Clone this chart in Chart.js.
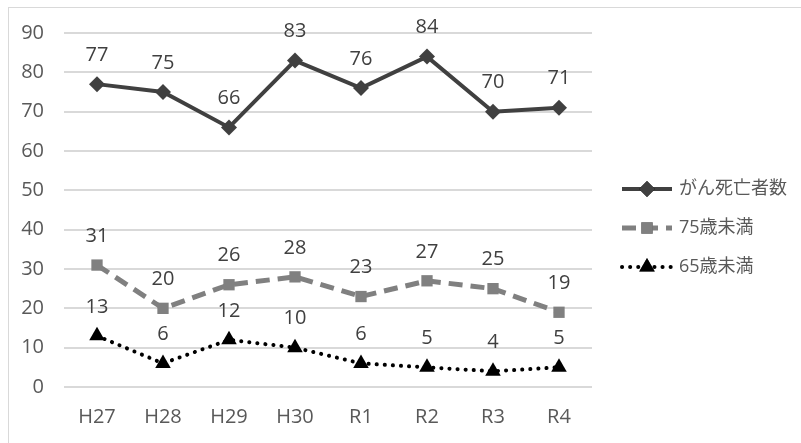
<!DOCTYPE html>
<html>
<head>
<meta charset="utf-8">
<script src="https://cdn.jsdelivr.net/npm/chart.js@4/dist/chart.umd.min.js"></script>
<style>
  html, body { margin: 0; padding: 0; background: #fff; }
  #wrap { position: relative; width: 801px; height: 443px; }
  #frame { position: absolute; left: 8px; top: 7px; width: 800px; height: 440px; border-left: 1px solid #d9d9d9; border-top: 1px solid #d9d9d9; box-sizing: border-box; }
  canvas { position: absolute; left: 0; top: 0; }
</style>
</head>
<body>
<div id="wrap">
  <div id="frame"></div>
  <canvas id="c" width="801" height="443"></canvas>
</div>
<script>
const categories = ['H27', 'H28', 'H29', 'H30', 'R1', 'R2', 'R3', 'R4'];
const cancerDeaths = [77, 75, 66, 83, 76, 84, 70, 71];
const under75 = [31, 20, 26, 28, 23, 27, 25, 19];
const under65 = [13, 6, 12, 10, 6, 5, 4, 5];
const seriesNames = ['がん死亡者数', '75歳未満', '65歳未満'];
const yTicks = [0, 10, 20, 30, 40, 50, 60, 70, 80, 90];

const FONT = '"Open Sans", "Noto Sans CJK JP", sans-serif';

// Value labels above every point
const valueLabels = {
  id: 'valueLabels',
  afterDatasetsDraw(chart) {
    const ctx = chart.ctx;
    ctx.save();
    ctx.font = '20px ' + FONT;
    ctx.fillStyle = '#404040';
    ctx.textAlign = 'center';
    ctx.textBaseline = 'middle';
    chart.data.datasets.forEach((ds, i) => {
      chart.getDatasetMeta(i).data.forEach((pt, j) => {
        ctx.fillText(String(ds.data[j]), pt.x, pt.y - 29);
      });
    });
    ctx.restore();
  }
};

// Legend on the right: line sample with marker, then the series name
const sideLegend = {
  id: 'sideLegend',
  afterDraw(chart) {
    const ctx = chart.ctx;
    ctx.save();
    const x0 = 622, x1 = 672, xm = 647;
    const rows = [189, 228, 267];
    chart.data.datasets.forEach((ds, i) => {
      const y = rows[i];
      ctx.beginPath();
      ctx.strokeStyle = ds.borderColor;
      ctx.lineWidth = ds.borderWidth;
      ctx.lineCap = ds.borderCapStyle || 'butt';
      ctx.setLineDash(ds.borderDash || []);
      ctx.moveTo(x0, y);
      ctx.lineTo(x1, y);
      ctx.stroke();
      ctx.setLineDash([]);
      Chart.helpers.drawPoint(ctx, {
        pointStyle: ds.pointStyle,
        radius: ds.pointRadius,
        rotation: 0,
        borderWidth: 0
      }, xm, y);
      ctx.fillStyle = ds.pointBackgroundColor;
      ctx.fill();
      ctx.font = '18px ' + FONT;
      ctx.fillStyle = '#595959';
      ctx.textAlign = 'left';
      ctx.textBaseline = 'middle';
      ctx.fillText(seriesNames[i], 679, y);
    });
    ctx.restore();
  }
};

new Chart(document.getElementById('c'), {
  type: 'line',
  data: {
    labels: categories,
    datasets: [
      {
        label: seriesNames[0], data: cancerDeaths,
        borderColor: '#404040', borderWidth: 4,
        pointStyle: 'rectRot', pointRadius: 8,
        pointBackgroundColor: '#404040', pointBorderColor: '#404040', pointBorderWidth: 0,
        tension: 0
      },
      {
        label: seriesNames[1], data: under75,
        borderColor: '#808080', borderWidth: 5, borderDash: [14, 8],
        pointStyle: 'rect', pointRadius: 8,
        pointBackgroundColor: '#808080', pointBorderColor: '#808080', pointBorderWidth: 0,
        tension: 0
      },
      {
        label: seriesNames[2], data: under65,
        borderColor: '#000000', borderWidth: 4, borderDash: [0.1, 8], borderCapStyle: 'round',
        pointStyle: 'triangle', pointRadius: 9,
        pointBackgroundColor: '#000000', pointBorderColor: '#000000', pointBorderWidth: 0,
        tension: 0
      }
    ]
  },
  options: {
    responsive: false,
    animation: false,
    devicePixelRatio: 1,
    layout: { padding: { left: 10, right: 209, top: 33, bottom: 8 } },
    plugins: { legend: { display: false }, tooltip: { enabled: false } },
    scales: {
      x: {
        offset: true,
        grid: { display: false },
        border: { display: false },
        ticks: { color: '#595959', font: { size: 20, family: FONT }, padding: 10, maxRotation: 0 },
        afterFit(s) { s.height = 48; }
      },
      y: {
        min: 0, max: 90,
        afterBuildTicks(s) { s.ticks = yTicks.map(v => ({ value: v })); },
        grid: { color: '#d9d9d9', lineWidth: 2, drawTicks: false },
        border: { display: false },
        ticks: { color: '#595959', font: { size: 20, family: FONT }, padding: 20 },
        afterFit(s) { s.width = 54; }
      }
    }
  },
  plugins: [valueLabels, sideLegend]
});
</script>
</body>
</html>
